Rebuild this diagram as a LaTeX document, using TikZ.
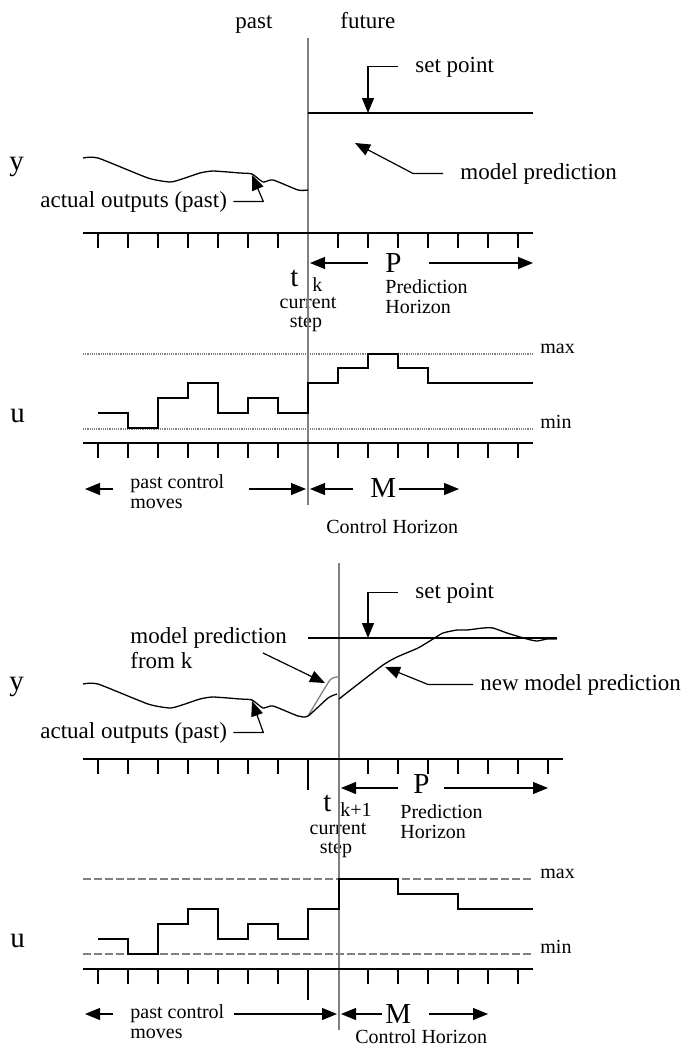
\documentclass[tikz,border=0pt]{standalone}
\usepackage{fontspec}
\setmainfont{Liberation Serif}
\usetikzlibrary{arrows.meta, positioning, calc}

\begin{document}
\begin{tikzpicture}[
    x=0.5pt, y=-0.5pt,
    lbl/.style={inner sep=0pt, anchor=base west, font=\fontsize{11.5}{13.5}\selectfont},
    sml/.style={inner sep=0pt, anchor=base west, font=\fontsize{10}{11.5}\selectfont},
    big/.style={inner sep=0pt, anchor=base west, font=\fontsize{14.5}{16}\selectfont},
    axis/.style={line width=0.8pt},
    tickmark/.style={line width=0.8pt},
    curve/.style={line width=0.65pt},
    ptr/.style={line width=0.6pt, -{Triangle[length=7.5pt,width=6pt]}},
    now/.style={draw=gray, line width=0.9pt},
    limdot/.style={draw=gray, line width=0.9pt, dash pattern=on 0.6pt off 0.5pt},
    limdash/.style={draw=gray, line width=0.8pt, dash pattern=on 4pt off 1.5pt}
]
\useasboundingbox (0,0) rectangle (695,1045);

%% ===== upper panel: step k =====
% Nodes
\node [lbl] (past) at (235,28) {past};
\node [lbl] (future) at (340,28) {future};
\node [lbl] (setpt-a) at (415,72) {set point};
\node [lbl] (mp-a) at (460,179) {model prediction};
\node [lbl] (ao-a) at (40,207) {actual outputs (past)};
\node [big] (y-a) at (9,170) {y};
\node [big] (t-a) at (290,286) {t};
\node [sml] (k-a) at (312,291) {k};
\node [sml, anchor=base] (cur-a) at (308,308) {current};
\node [sml, anchor=base] (step-a) at (306,327) {step};
\node [big] (P-a) at (385,272) {P};
\node [sml] (pred-a) at (385,293) {Prediction};
\node [sml] (hor-a) at (385,313) {Horizon};
\node [sml] (max-a) at (540,353) {max};
\node [sml] (min-a) at (540,428) {min};
\node [big] (u-a) at (10,422) {u};
\node [sml] (pc-a) at (130,488) {past control};
\node [sml] (mv-a) at (130,508) {moves};
\node [big] (M-a) at (370,497) {M};
\node [sml] (ch-a) at (326,533) {Control Horizon};

\coordinate (sp-tip-a) at (368,113);
\coordinate (mp-tip-a) at (355,143);
\coordinate (ao-tip-a) at (252,175);
\coordinate (Pl-a) at (310,263);
\coordinate (Pr-a) at (533,263);
\coordinate (pcl-a) at (85,489);
\coordinate (pcr-a) at (306,489);
\coordinate (Ml-a) at (310,489);
\coordinate (Mr-a) at (459,489);

% Current step line
\draw[now] (308,38) -- (308,505);

% Axes and ticks
\draw[axis] (83,233) -- (533,233);
\draw[axis] (83,443) -- (533,443);
\foreach \x in {98,128,...,278,338,368,...,518} {
    \draw[tickmark] (\x,233) -- ++(0,15);
    \draw[tickmark] (\x,443) -- ++(0,15);
}
\draw[limdot] (83,354) -- (533,354);
\draw[limdot] (83,429) -- (533,429);

% Signals
\draw[curve] (308,113) -- (533,113);
\draw[curve] plot[smooth, tension=0.35] coordinates {(83,158) (98,158) (148,178) (170,182) (182,179) (200,173) (213,171) (240,173) (252,174) (263,182) (273,180) (298,190) (308,190)};
\draw[curve] (98,413) -| (128,428) -| (158,398) -| (188,383) -| (218,413) -| (248,398) -| (278,413) -| (308,383) -| (338,368) -| (368,354) -| (398,368) -| (428,383) -- (533,383);

% Arrows
\draw[ptr] ([xshift=-8.5pt]setpt-a.west) -| (sp-tip-a);
\draw[ptr] ([xshift=-8.5pt]mp-a.west) -- ++(-30,0) -- (mp-tip-a);
\draw[ptr] ([xshift=3pt]ao-a.east) -- ++(30,0) -- (ao-tip-a);
\draw[ptr] ([xshift=-8.5pt]P-a.west |- Pl-a) -- (Pl-a);
\draw[ptr] ([xshift=13.5pt]P-a.east |- Pr-a) -- (Pr-a);
\draw[ptr] ([xshift=-8.5pt]pc-a.west |- pcl-a) -- (pcl-a);
\draw[ptr] ([xshift=12pt]pc-a.east |- pcr-a) -- (pcr-a);
\draw[ptr] ([xshift=-8.5pt]M-a.west |- Ml-a) -- (Ml-a);
\draw[ptr] ([xshift=1pt]M-a.east |- Mr-a) -- (Mr-a);

%% ===== lower panel: step k+1 =====
% Nodes
\node [lbl] (setpt-b) at (415,598) {set point};
\node [lbl] (mpk-b) at (130,643) {model prediction};
\node [lbl] (fromk-b) at (130,668) {from k};
\node [big] (y-b) at (9,690) {y};
\node [lbl] (nmp-b) at (480,690) {new model prediction};
\node [lbl] (ao-b) at (40,738) {actual outputs (past)};
\node [big] (P-b) at (413,793) {P};
\node [big] (t-b) at (323,811) {t};
\node [sml] (k1-b) at (340,816) {k+1};
\node [sml, anchor=base] (cur-b) at (338,834) {current};
\node [sml, anchor=base] (step-b) at (336,853) {step};
\node [sml] (pred-b) at (400,818) {Prediction};
\node [sml] (hor-b) at (400,838) {Horizon};
\node [sml] (max-b) at (540,878) {max};
\node [sml] (min-b) at (540,953) {min};
\node [big] (u-b) at (10,947) {u};
\node [sml] (pc-b) at (130,1018) {past control};
\node [sml] (mv-b) at (130,1038) {moves};
\node [big] (M-b) at (385,1023) {M};
\node [sml] (ch-b) at (355,1043) {Control Horizon};

\coordinate (sp-tip-b) at (368,638);
\coordinate (mpk-from) at (263,653);
\coordinate (mpk-tip) at (325,683);
\coordinate (nmp-tip) at (385,667);
\coordinate (ao-tip-b) at (252,701);
\coordinate (Pl-b) at (341,788);
\coordinate (Pr-b) at (548,788);
\coordinate (pcl-b) at (85,1014);
\coordinate (pcr-b) at (337,1014);
\coordinate (Ml-b) at (341,1014);
\coordinate (Mr-b) at (488,1014);

% Current step line
\draw[now] (339,563) -- (339,1030);

% Axes and ticks
\draw[axis] (83,759) -- (563,759);
\draw[axis] (83,969) -- (533,969);
\foreach \x in {98,128,...,278,368,398,...,548}
    \draw[tickmark] (\x,759) -- ++(0,15);
\foreach \x in {98,128,...,278,368,398,...,518}
    \draw[tickmark] (\x,969) -- ++(0,15);
\draw[tickmark] (308,759) -- ++(0,31);
\draw[tickmark] (308,969) -- ++(0,31);
\draw[limdash] (83,879) -- (533,879);
\draw[limdash] (83,954) -- (533,954);

% Signals
\draw[curve] (308,638) -- (557,638);
\draw[curve, gray] plot[smooth, tension=0.3] coordinates {(308,716) (330,680) (338,677)};
\draw[curve] plot[smooth, tension=0.35] coordinates {(83,684) (98,684) (148,704) (170,708) (182,705) (200,699) (213,697) (240,699) (252,700) (263,708) (273,706) (298,716) (308,716) (328,698) (337,694)};
\draw[curve] plot[smooth, tension=0.35] coordinates {(339,699) (353,688) (383,665) (397,657) (418,648) (433,639) (443,633) (457,630) (467,630) (483,628) (493,628) (507,633) (527,639) (537,641) (547,639) (557,639)};
\draw[curve] (98,939) -| (128,954) -| (158,924) -| (188,909) -| (218,939) -| (248,924) -| (278,939) -| (308,909) -| (339,879) -| (398,894) -| (458,909) -- (533,909);

% Arrows
\draw[ptr] ([xshift=-8.5pt]setpt-b.west) -| (sp-tip-b);
\draw[ptr] (mpk-from) -- (mpk-tip);
\draw[ptr] ([xshift=-3.5pt]nmp-b.west) -- ++(-45,0) -- (nmp-tip);
\draw[ptr] ([xshift=3pt]ao-b.east) -- ++(30,0) -- (ao-tip-b);
\draw[ptr] ([xshift=-7.5pt]P-b.west |- Pl-b) -- (Pl-b);
\draw[ptr] ([xshift=7pt]P-b.east |- Pr-b) -- (Pr-b);
\draw[ptr] ([xshift=-8.5pt]pc-b.west |- pcl-b) -- (pcl-b);
\draw[ptr] ([xshift=4.5pt]pc-b.east |- pcr-b) -- (pcr-b);
\draw[ptr] ([xshift=-1.5pt]M-b.west |- Ml-b) -- (Ml-b);
\draw[ptr] ([xshift=8.5pt]M-b.east |- Mr-b) -- (Mr-b);
\end{tikzpicture}
\end{document}
